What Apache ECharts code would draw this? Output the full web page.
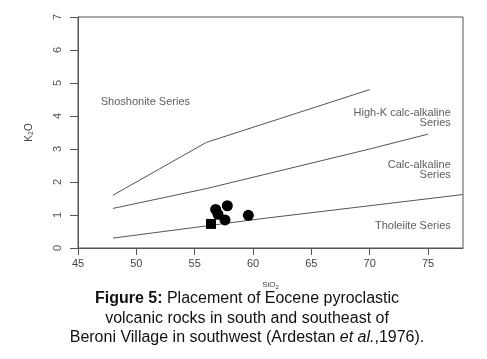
<!DOCTYPE html>
<html><head><meta charset="utf-8">
<script src="https://cdn.jsdelivr.net/npm/echarts@6/dist/echarts.min.js"></script>
<style>html,body{margin:0;padding:0;background:#fff}#c{width:487px;height:359px}</style>
</head><body><div id="c"></div>
<script>
// Boundary lines (SiO2, K2O)
const shoshoniteLine = [[48,1.6],[52,2.4],[56,3.2],[63,4.0],[70,4.8]];
const highKLine = [[48,1.2],[52,1.5],[56,1.8],[63,2.4],[70,3.0],[75,3.45]];
const tholeiiteLine = [[48,0.3],[61,0.9],[78,1.62]];
// Samples
const circleSamples = [[56.8,1.17],[57.8,1.28],[57.0,1.02],[57.6,0.85],[59.6,0.99]];
const squareSamples = [[56.4,0.73]];
// Ticks
const xTicks = [45,50,55,60,65,70,75];
const yTicks = [0,1,2,3,4,5,6,7];
// Field labels
const fieldLabels = [
  {text:'Shoshonite Series', at:[46.95,4.42], align:'left'},
  {text:'High-K calc-alkaline\nSeries', at:[76.95,3.94], align:'right'},
  {text:'Calc-alkaline\nSeries', at:[76.95,2.37], align:'right'},
  {text:'Tholeiite Series', at:[76.95,0.67], align:'right'}
];
const captionLines = [
  '{b|Figure 5:} Placement of Eocene pyroclastic',
  'volcanic rocks in south and southeast of',
  'Beroni Village in southwest (Ardestan {i|et al.},1976).'
];

const lineColor = '#555';
const F = 'Liberation Sans, Arial, sans-serif';
const chart = echarts.init(document.getElementById('c'), null, {renderer:'canvas'});
const lineSeries = [shoshoniteLine, highKLine, tholeiiteLine].map(d => ({
  type:'line', data:d, symbol:'none', silent:true,
  lineStyle:{color:lineColor, width:1}, z:2
}));
chart.setOption({
  animation:false,
  backgroundColor:'#fff',
  graphic:[{
    type:'text', x:247, y:289,
    style:{
      text:captionLines.join('\n'), align:'center', verticalAlign:'top',
      font:'16px ' + F, fill:'#111', lineHeight:19.5,
      rich:{
        b:{fontFamily:F, fontSize:16, fontWeight:'bold', fill:'#111', lineHeight:19.5},
        i:{fontFamily:F, fontSize:16, fontStyle:'italic', fill:'#111', lineHeight:19.5}
      }
    }
  }],
  grid:{left:78, right:24, top:17, bottom:111, show:true, borderColor:lineColor, borderWidth:1, backgroundColor:'#fff'},
  xAxis:{
    type:'value', min:45, max:78,
    name:'{t|SiO}{s|2}', nameLocation:'middle', nameGap:32,
    nameTextStyle:{rich:{t:{fontSize:8, color:'#444', fontFamily:F}, s:{fontSize:6, color:'#444', padding:[4,0,0,0], fontFamily:F}}},
    splitLine:{show:false},
    axisLine:{show:true, onZero:false, lineStyle:{color:lineColor}},
    axisTick:{show:true, length:7, customValues:xTicks, lineStyle:{color:lineColor}},
    axisLabel:{customValues:xTicks, margin:10, fontSize:11, color:'#444', fontFamily:F}
  },
  yAxis:{
    type:'value', min:0, max:7, interval:1,
    name:'{t|K}{s|2}{t|O}', nameLocation:'middle', nameGap:43, nameRotate:90,
    nameTextStyle:{rich:{t:{fontSize:10, color:'#444', fontFamily:F}, s:{fontSize:7, color:'#444', padding:[5,0,0,0], fontFamily:F}}},
    splitLine:{show:false},
    axisLine:{show:true, onZero:false, lineStyle:{color:lineColor}},
    axisTick:{show:true, length:8, lineStyle:{color:lineColor}},
    axisLabel:{rotate:90, margin:15, fontSize:11, color:'#555', fontFamily:F, customValues:yTicks}
  },
  series:[
    ...lineSeries,
    {type:'scatter', data:circleSamples, symbol:'circle', symbolSize:11, itemStyle:{color:'#000', opacity:1}, z:5},
    {type:'scatter', data:squareSamples, symbol:'rect', symbolSize:10, itemStyle:{color:'#000', opacity:1}, z:5},
    {type:'scatter', symbolSize:0, silent:true, z:4,
      data:fieldLabels.map(l => ({value:l.at, name:l.text,
        label:{show:true, position:'inside', formatter:l.text, align:l.align, verticalAlign:'middle',
          fontSize:11, lineHeight:9.5, color:'#333', fontFamily:F}}))
    }
  ]
});
</script></body></html>
